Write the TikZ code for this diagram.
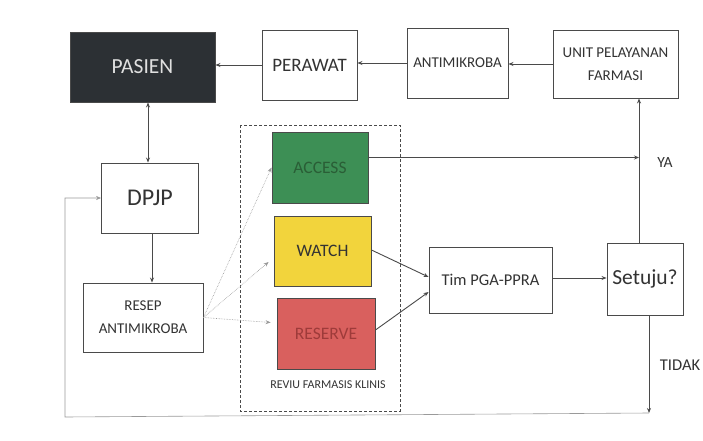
\documentclass[tikz,border=0pt]{standalone}
\usepackage{fontspec}
\setmainfont{Carlito}
\usetikzlibrary{arrows.meta}
\definecolor{linec}{HTML}{4A4A4A}
\definecolor{lightl}{HTML}{9A9A9A}
\definecolor{pasienc}{HTML}{2C3034}
\definecolor{accessc}{HTML}{3D8F55}
\definecolor{accesst}{HTML}{2A5E36}
\definecolor{watchc}{HTML}{F2D43C}
\definecolor{reservec}{HTML}{D9605E}
\definecolor{reservet}{HTML}{9E3B3A}
\definecolor{txt}{HTML}{333333}
\begin{document}
\begin{tikzpicture}[x=1pt,y=-1pt,
  box/.style={draw=linec, line width=0.9pt, fill=white, text=txt, align=center, inner sep=2pt},
  arr/.style={draw=linec, line width=0.9pt, -{Stealth[length=5pt,width=4pt]}},
  darr/.style={draw=linec, line width=0.9pt, {Stealth[length=5pt,width=4pt]}-{Stealth[length=5pt,width=4pt]}},
  larr/.style={draw=lightl, line width=0.6pt, densely dotted, -{Stealth[length=5pt,width=4pt]}},
  farr/.style={draw=lightl, line width=0.6pt, -{Stealth[length=5pt,width=4pt]}},
  lbl/.style={text=txt, inner sep=0pt}]
\useasboundingbox (0,0) rectangle (703,441);
\fill[white] (0,0) rectangle (703,441);
% top row
\node[box, fill=pasienc, text=white!88!black, minimum width=145pt, minimum height=70pt, font=\fontsize{21.5}{23}\selectfont] (pasien) at (142.5,67) {PASIEN};
\node[box, minimum width=95pt, minimum height=70pt, font=\fontsize{19}{21}\selectfont] (perawat) at (309.5,65) {PERAWAT};
\node[box, minimum width=101pt, minimum height=70pt, font=\fontsize{15}{17}\selectfont] (antim) at (457.5,63) {ANTIMIKROBA};
\node[box, minimum width=125pt, minimum height=68pt, font=\fontsize{15}{23}\selectfont] (unit) at (615.5,64) {UNIT PELAYANAN\\FARMASI};
% left column
\node[box, minimum width=97pt, minimum height=70pt, font=\fontsize{24}{26}\selectfont] (dpjp) at (150,198) {DPJP};
\node[box, minimum width=120pt, minimum height=69pt, font=\fontsize{15}{23}\selectfont] (resep) at (143,317.5) {RESEP\\ANTIMIKROBA};
% dashed group
\draw[linec, line width=0.7pt, densely dashed] (240,125) rectangle (400,411);
\node[box, fill=accessc, text=accesst, minimum width=96pt, minimum height=71pt, font=\fontsize{17.5}{19}\selectfont] (access) at (320,167.5) {ACCESS};
\node[box, fill=watchc, text=txt, minimum width=97pt, minimum height=70pt, font=\fontsize{17.5}{19}\selectfont] (watch) at (322.5,251) {WATCH};
\node[box, fill=reservec, text=reservet, minimum width=98pt, minimum height=71pt, font=\fontsize{17.5}{19}\selectfont] (reserve) at (326,333.5) {RESERVE};
\node[lbl, font=\fontsize{12}{13}\selectfont] (reviu) at (328,385) {REVIU FARMASIS KLINIS};
% right part
\node[box, minimum width=123pt, minimum height=66pt, font=\fontsize{16.5}{18}\selectfont] (tim) at (490.5,280) {Tim PGA-PPRA};
\node[box, minimum width=76pt, minimum height=72pt, font=\fontsize{21.5}{23}\selectfont] (setuju) at (645,279) {Setuju?};
\node[lbl, font=\fontsize{15.5}{17}\selectfont] (ya) at (665,163) {YA};
\node[lbl, font=\fontsize{16.5}{18}\selectfont] (tidak) at (680,365) {TIDAK};
% coordinates
\coordinate (vup) at ([xshift=-6pt]setuju.north);
\coordinate (vdn) at ([xshift=4pt]setuju.south);
\coordinate (bot) at (vdn |- 0,413);
\coordinate (botl) at (65,417);
% connectors top row
\draw[arr] (perawat.west) -- (pasien.east |- perawat.west);
\draw[arr] (antim.west) -- (perawat.east |- antim.west);
\draw[arr] (unit.west) -- (antim.east |- unit.west);
% PASIEN <-> DPJP
\draw[darr] ([xshift=-2pt]dpjp.north) -- ([xshift=-2pt]dpjp.north |- pasien.south);
% DPJP -> RESEP
\draw[arr] ([xshift=2pt]dpjp.south) -- ([xshift=2pt]dpjp.south |- resep.north);
% RESEP -> categories
\draw[larr] (resep.east) -- (access.west);
\draw[larr] (resep.east) -- ([xshift=-5pt,yshift=-11pt]watch.west);
\draw[larr] (resep.east) -- ([xshift=-6pt,yshift=11pt]reserve.west);
% to Tim
\draw[arr] ([yshift=1pt]watch.east) -- ([yshift=3pt]tim.west);
\draw[arr] ([yshift=3.5pt]reserve.east) -- ([yshift=-12pt]tim.west);
\draw[arr] ([yshift=2pt]tim.east) -- (setuju.west |- 0,278);
% YA path
\draw[arr] (vup) -- (vup |- unit.south);
\draw[arr] (access.east |- 0,157.5) -- (vup |- 0,157.5);
% TIDAK path
\draw[arr] (vdn) -- (bot);
\draw[farr] (bot) -- (botl) |- (dpjp.west);
\end{tikzpicture}
\end{document}
